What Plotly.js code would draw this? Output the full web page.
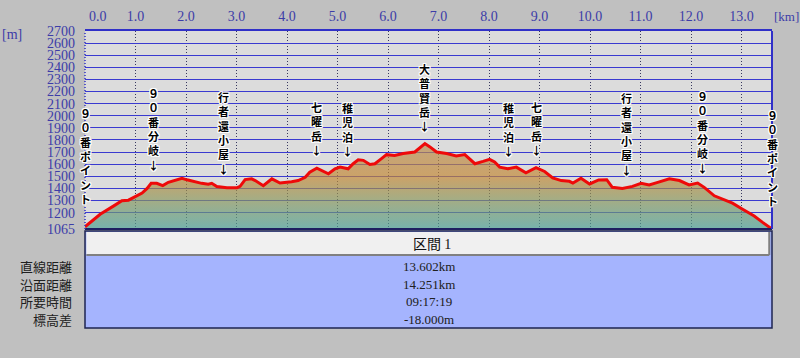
<!DOCTYPE html>
<html>
<head>
<meta charset="utf-8">
<script src="https://cdn.plot.ly/plotly-3.0.1.min.js"></script>
<style>
  html, body { margin: 0; padding: 0; background: #c0c0c0; }
  #chart { width: 800px; height: 358px; }
</style>
</head>
<body>
<div id="chart"></div>
<script>
// ---- data ----
const distKm = [0.00, 0.30, 0.57, 0.73, 0.86, 1.00, 1.13, 1.23, 1.31, 1.42, 1.54, 1.65, 1.79, 1.92, 2.02, 2.15, 2.31, 2.44, 2.51, 2.61, 2.81, 3.01, 3.07, 3.17, 3.30, 3.37, 3.53, 3.70, 3.86, 4.09, 4.22, 4.36, 4.45, 4.59, 4.68, 4.82, 4.95, 5.05, 5.21, 5.31, 5.41, 5.51, 5.64, 5.74, 5.87, 5.97, 6.13, 6.30, 6.53, 6.64, 6.73, 6.83, 6.96, 7.16, 7.35, 7.52, 7.72, 7.88, 8.01, 8.11, 8.21, 8.37, 8.54, 8.73, 8.93, 9.10, 9.26, 9.43, 9.59, 9.66, 9.82, 9.99, 10.17, 10.33, 10.44, 10.64, 10.84, 11.01, 11.17, 11.34, 11.57, 11.77, 11.96, 12.13, 12.26, 12.46, 12.66, 12.82, 13.02, 13.25, 13.41, 13.55, 13.602];
const elevM = [1083, 1187, 1256, 1298, 1303, 1331, 1362, 1400, 1442, 1442, 1423, 1451, 1471, 1484, 1471, 1456, 1442, 1434, 1442, 1415, 1406, 1406, 1417, 1473, 1479, 1465, 1423, 1479, 1445, 1456, 1465, 1492, 1534, 1567, 1548, 1521, 1562, 1576, 1562, 1604, 1637, 1632, 1598, 1604, 1646, 1679, 1673, 1688, 1701, 1743, 1771, 1743, 1701, 1688, 1668, 1679, 1604, 1623, 1640, 1618, 1576, 1562, 1576, 1529, 1571, 1540, 1487, 1465, 1459, 1445, 1484, 1437, 1470, 1472, 1409, 1400, 1417, 1442, 1429, 1450, 1479, 1465, 1429, 1445, 1409, 1339, 1306, 1278, 1228, 1172, 1122, 1075, 1065];

const xTickVals = [0, 1, 2, 3, 4, 5, 6, 7, 8, 9, 10, 11, 12, 13];
const xTickText = ['0.0', '1.0', '2.0', '3.0', '4.0', '5.0', '6.0', '7.0', '8.0', '9.0', '10.0', '11.0', '12.0', '13.0'];
const yTickVals = [1065, 1200, 1300, 1400, 1500, 1600, 1700, 1800, 1900, 2000, 2100, 2200, 2300, 2400, 2500, 2600, 2700];
const yTickText = yTickVals.map(String);

const pointNames = ['９０番ポイント', '９０番分岐', '行者還小屋', '七曜岳', '稚児泊', '大普賢岳', '稚児泊', '七曜岳', '行者還小屋', '９０番分岐', '９０番ポイント'];
const pointKm = [0, 1.35, 2.75, 4.59, 5.19, 6.73, 8.39, 8.94, 10.72, 12.22, 13.602];

const sectionName = '区間';
const sectionNo = '1';
const statLabels = ['直線距離', '沿面距離', '所要時間', '標高差'];
const statValues = ['13.602km', '14.251km', '09:17:19', '-18.000m'];

// ---- helpers ----
function elevAt(k) {
  for (let i = 1; i < distKm.length; i++) {
    if (k <= distKm[i]) {
      const t = (k - distKm[i - 1]) / (distKm[i] - distKm[i - 1]);
      return elevM[i - 1] + t * (elevM[i] - elevM[i - 1]);
    }
  }
  return elevM[elevM.length - 1];
}
function pyToPaper(py) { return (229 - py) / 198; }

const axisBlue = '#3c3ca8';
const serif = 'Liberation Serif, DejaVu Serif, serif';
const jp = 'Noto Sans CJK JP, sans-serif';
const halo = '1px 0 0 #fff, -1px 0 0 #fff, 0 1px 0 #fff, 0 -1px 0 #fff, 1px 1px 0 #fff, -1px -1px 0 #fff, 1px -1px 0 #fff, -1px 1px 0 #fff';

const profile = {
  x: distKm,
  y: elevM,
  type: 'scatter',
  mode: 'lines',
  line: { color: '#ee0a0a', width: 3 },
  fill: 'tozeroy',
  fillgradient: {
    type: 'vertical',
    start: 1065,
    stop: 1780,
    colorscale: [
      [0, 'rgba(70,160,150,0.68)'],
      [0.35, 'rgba(140,150,90,0.68)'],
      [0.6, 'rgba(195,135,50,0.68)'],
      [1, 'rgba(185,140,80,0.68)']
    ]
  },
  hoverinfo: 'skip',
  showlegend: false
};

// ---- annotations ----
const annotations = [];
const last = pointNames.length - 1;
pointNames.forEach((name, i) => {
  const chars = Array.from(name);
  if (i > 0 && i < last) chars.push('↓');
  annotations.push({
    x: pointKm[i], y: elevAt(pointKm[i]), xref: 'x', yref: 'y',
    text: chars.join('<br>'), showarrow: false, xanchor: 'center', yanchor: 'bottom',
    yshift: (i > 0 && i < last) ? 8 : 18,
    font: { family: jp, size: 11, weight: 'bold', color: '#000', shadow: halo }
  });
});
// first top tick label (drawn offset to the right as in the reference)
annotations.push({
  x: 0, y: 1, xref: 'x', yref: 'paper', text: xTickText[0], showarrow: false,
  xanchor: 'left', yanchor: 'bottom', xshift: 2, yshift: 5,
  font: { family: serif, size: 14, color: axisBlue }
});
annotations.push({
  x: -0.123, y: 1, xref: 'paper', yref: 'paper', text: '[m]', showarrow: false,
  xanchor: 'left', yanchor: 'top', yshift: 6,
  font: { family: serif, size: 14, color: axisBlue }
});
annotations.push({
  x: 1.0, y: 1, xref: 'paper', yref: 'paper', text: '[km]', showarrow: false,
  xanchor: 'left', yanchor: 'bottom', yshift: 5,
  font: { family: serif, size: 13, color: axisBlue }
});
// table header
annotations.push({
  x: 0.505, y: pyToPaper(243), xref: 'paper', yref: 'paper',
  text: sectionName + ' <span style="font-family:Liberation Serif">' + sectionNo + '</span>',
  showarrow: false, xanchor: 'center', yanchor: 'middle',
  font: { family: jp, size: 14, color: '#111' }
});
const rowY = [266, 284, 301, 319];
statLabels.forEach((lab, i) => {
  annotations.push({
    x: -0.016, y: pyToPaper(rowY[i]), xref: 'paper', yref: 'paper', text: lab,
    showarrow: false, xanchor: 'right', yanchor: 'middle',
    font: { family: jp, size: 13, color: '#202020' }
  });
  annotations.push({
    x: 0.5, y: pyToPaper(rowY[i]), xref: 'paper', yref: 'paper', text: statValues[i],
    showarrow: false, xanchor: 'center', yanchor: 'middle',
    font: { family: serif, size: 13, color: '#202020' }
  });
});

// ---- shapes: frame + table ----
const shapes = [
  { type: 'rect', xref: 'paper', yref: 'paper', x0: 0, x1: 1, y0: pyToPaper(231), y1: pyToPaper(328),
    fillcolor: '#a5b4fe', line: { color: '#1e2452', width: 1.5 }, layer: 'above' },
  { type: 'rect', xref: 'paper', yref: 'paper', x0: 0.002, x1: 0.996, y0: pyToPaper(232), y1: pyToPaper(254.5),
    fillcolor: '#f0f0f0', line: { width: 0 }, layer: 'above' },
  { type: 'line', xref: 'paper', yref: 'paper', x0: 0.002, x1: 0.996, y0: pyToPaper(255), y1: pyToPaper(255),
    line: { color: '#808080', width: 2 }, layer: 'above' },
  { type: 'line', xref: 'paper', yref: 'paper', x0: 0.996, x1: 0.996, y0: pyToPaper(232), y1: pyToPaper(255),
    line: { color: '#808080', width: 2 }, layer: 'above' },
  { type: 'line', xref: 'paper', yref: 'paper', x0: 0, x1: 1, y0: 0, y1: 0,
    line: { color: '#1e2060', width: 2 }, layer: 'above' },
  { type: 'line', xref: 'paper', yref: 'paper', x0: 1, x1: 1, y0: 0, y1: 1,
    line: { color: '#3030c8', width: 2 }, layer: 'above' },
  { type: 'line', xref: 'paper', yref: 'paper', x0: 0, x1: 0, y0: 0, y1: 1,
    line: { color: '#3030c8', width: 1.5, dash: '1px,2px' }, layer: 'above' }
];

const layout = {
  width: 800, height: 358,
  margin: { l: 85, r: 28, t: 31, b: 129, pad: 0 },
  paper_bgcolor: '#c0c0c0',
  plot_bgcolor: '#dcdcdc',
  showlegend: false,
  xaxis: {
    side: 'top', range: [0, 13.602], fixedrange: true,
    tickmode: 'array', tickvals: xTickVals, ticktext: xTickText.map((t, i) => i === 0 ? '' : t),
    ticks: '', ticklabelstandoff: 2,
    tickfont: { family: serif, size: 14, color: axisBlue },
    showgrid: true, gridcolor: '#383860', griddash: '1px,2px', gridwidth: 1,
    zeroline: false, showline: true, linecolor: '#3030c8', linewidth: 2, mirror: false
  },
  yaxis: {
    range: [1065, 2700], fixedrange: true,
    tickmode: 'array', tickvals: yTickVals, ticktext: yTickText,
    ticks: '', ticklabelstandoff: 9,
    tickfont: { family: serif, size: 14, color: axisBlue },
    showgrid: true, gridcolor: '#3a3ad0', gridwidth: 1,
    zeroline: false, showline: false
  },
  annotations: annotations,
  shapes: shapes
};

Plotly.newPlot('chart', [profile], layout, { displayModeBar: false, staticPlot: true });
</script>
</body>
</html>
